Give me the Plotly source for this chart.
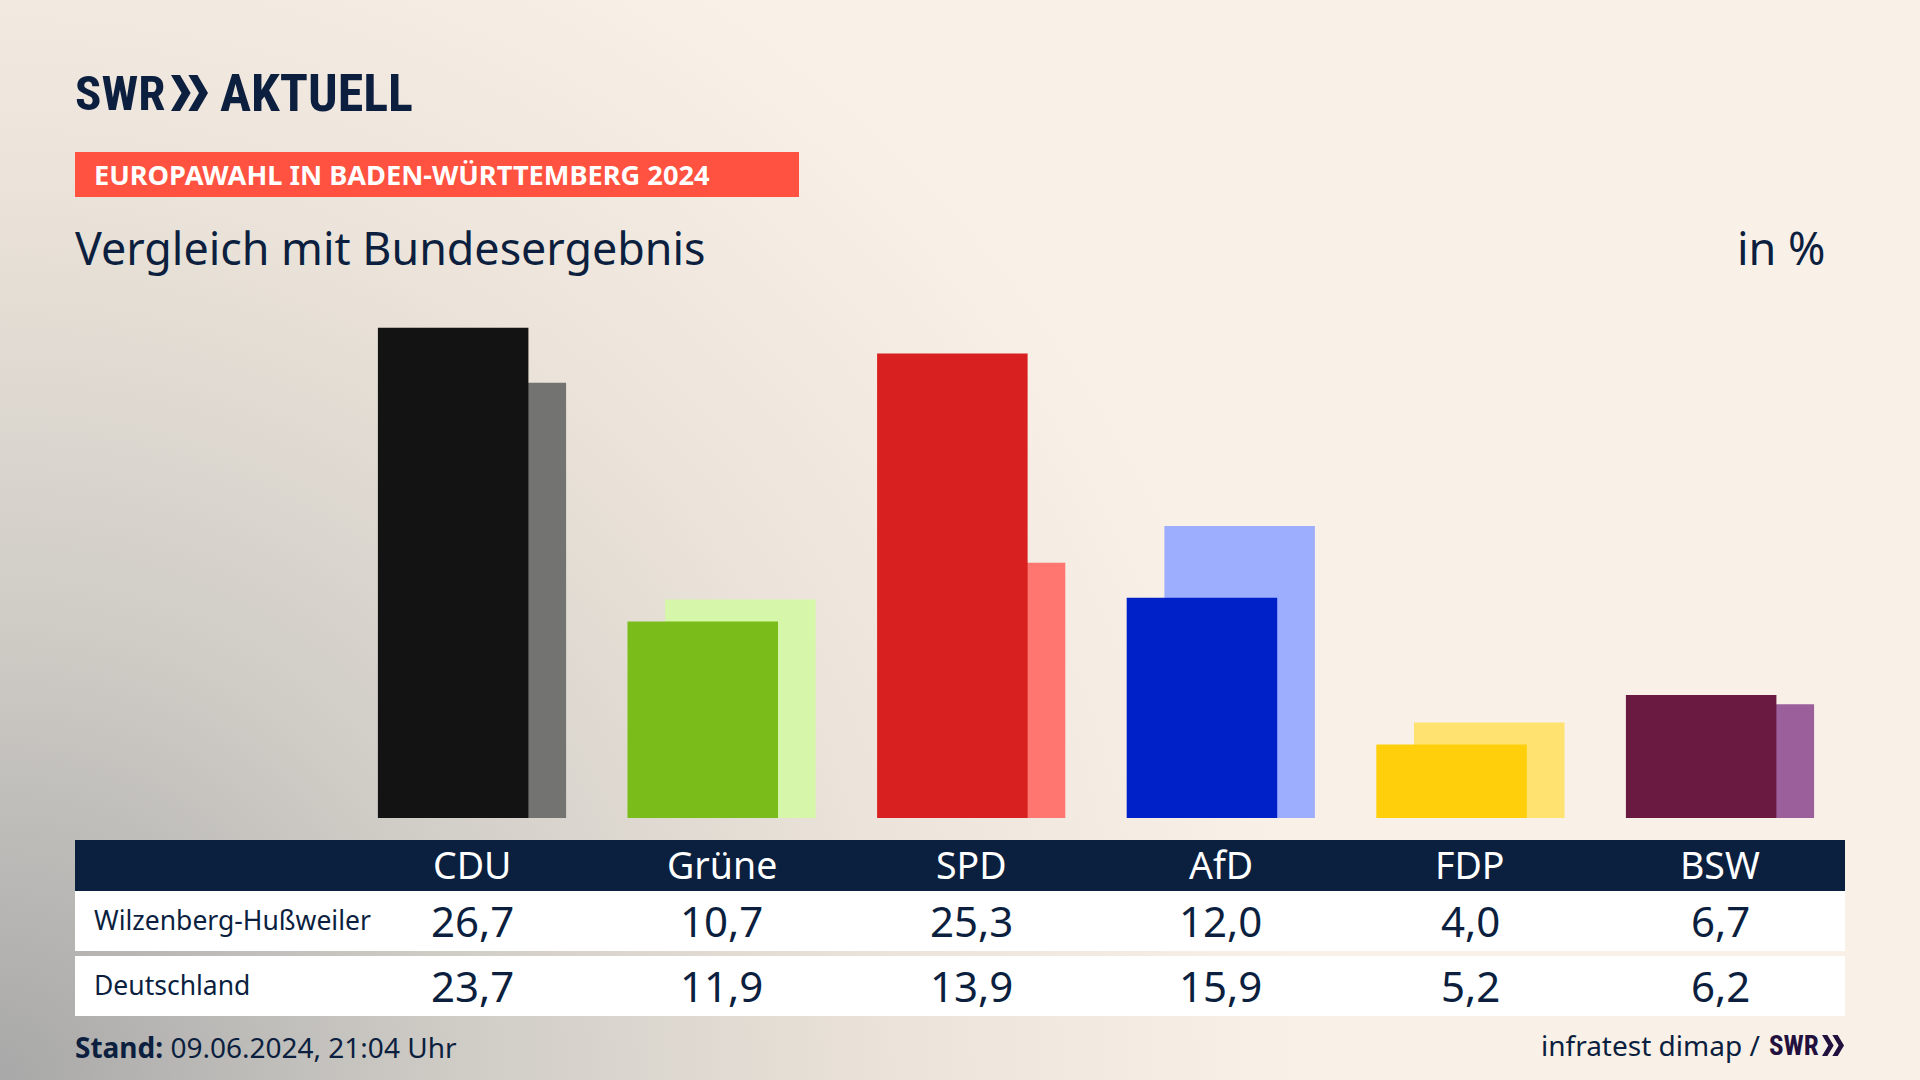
import base64
import plotly.graph_objects as go

parties = ['CDU', 'Grüne', 'SPD', 'AfD', 'FDP', 'BSW']
wahlkreis = [26.7, 10.7, 25.3, 12.0, 4.0, 6.7]
bund = [23.7, 11.9, 13.9, 15.9, 5.2, 6.2]
row_names = ['Wilzenberg-Hußweiler', 'Deutschland']

colors_main = ['#131313', '#7abd1a', '#d7201f', '#0020c8', '#ffcf0c', '#6a1a41']
colors_light = ['#737371', '#d6f6aa', '#ff7570', '#9eaeff', '#ffe26f', '#9b5f9b']

navy = '#0c1f3f'
font_name = 'Noto Sans'
W, H = 1920, 1080


def px(x):
    return x / W


def py(y):
    return 1 - y / H


# background: grey glow from the lower left corner
svg = f'''<svg xmlns="http://www.w3.org/2000/svg" width="{W}" height="{H}">
<defs><radialGradient id="g" gradientUnits="userSpaceOnUse" cx="0" cy="{H}" r="1300">
<stop offset="0" stop-color="#a8a8a8"/><stop offset="0.35" stop-color="#cfccc6"/>
<stop offset="0.7" stop-color="#ece4da"/><stop offset="1" stop-color="#f9f1e7"/>
</radialGradient></defs><rect width="{W}" height="{H}" fill="url(#g)"/></svg>'''
bg_src = 'data:image/svg+xml;base64,' + base64.b64encode(svg.encode()).decode()

fig = go.Figure()

# Bundesergebnis sits behind and shifted to the right
fig.add_trace(go.Bar(x=parties, y=bund, marker_color=colors_light, marker_line_width=0,
                     width=0.603, offset=-0.226, name='Deutschland'))
fig.add_trace(go.Bar(x=parties, y=wahlkreis, marker_color=colors_main, marker_line_width=0,
                     width=0.603, offset=-0.377, name='Wilzenberg-Hußweiler'))

shapes = []


def add_rect(x0, y0, x1, y1, color):
    shapes.append(dict(type='rect', xref='paper', yref='paper', x0=px(x0), x1=px(x1),
                       y0=py(y1), y1=py(y0), fillcolor=color, line_width=0, layer='below'))


def add_chevrons(x0, y0, x1, y1, color):
    # two arrow heads of the SWR logo
    w = (x1 - x0) * 0.53
    t = w * 0.46
    for dx in (0, x1 - x0 - w):
        pts = [(x0 + dx, y0), (x0 + dx + t, y0), (x0 + dx + w, (y0 + y1) / 2), (x0 + dx + t, y1),
               (x0 + dx, y1), (x0 + dx + w - t, (y0 + y1) / 2)]
        path = 'M ' + ' L '.join(f'{px(a):.5f},{py(b):.5f}' for a, b in pts) + ' Z'
        shapes.append(dict(type='path', xref='paper', yref='paper', path=path,
                           fillcolor=color, line_width=0))


add_rect(75, 152, 799, 197, '#ff5240')
add_rect(75, 840, 1845, 891, '#0b1f3e')
add_rect(75, 891, 1845, 951, '#ffffff')
add_rect(75, 956, 1845, 1016, '#ffffff')
add_chevrons(171, 75, 208, 111, navy)
add_chevrons(1822, 1035, 1844, 1056, '#22103f')

annotations = []


def add_text(text, x, y, size, color=navy, anchor='left', family=font_name, xref='paper'):
    annotations.append(dict(text=text, xref=xref, yref='paper', x=px(x) if xref == 'paper' else x,
                            y=py(y), xanchor=anchor, yanchor='middle', showarrow=False,
                            font=dict(family=family, size=size, color=color),
                            borderpad=0, borderwidth=0))


narrow = 'Roboto Condensed'
add_text('<b>SWR</b>', 75, 93, 49, family=narrow)
add_text('<b>AKTUELL</b>', 220, 93, 52, family=narrow)
add_text('<b>EUROPAWAHL IN BADEN-WÜRTTEMBERG 2024</b>', 94, 175, 27.2, color='#ffffff')
add_text('Vergleich mit Bundesergebnis', 75, 247, 44.8)
add_text('in %', 1826, 247, 45, anchor='right')

for name_idx, name in enumerate(row_names):
    add_text(name, 94, [920, 985][name_idx], 26.5)

for i, party in enumerate(parties):
    add_text(party, i, 864, 37.5, color='#ffffff', anchor='center', xref='x')
    add_text(f'{wahlkreis[i]:.1f}'.replace('.', ','), i, 920, 42, anchor='center', xref='x')
    add_text(f'{bund[i]:.1f}'.replace('.', ','), i, 985, 42, anchor='center', xref='x')

add_text('<b>Stand:</b> 09.06.2024, 21:04 Uhr', 75, 1047, 28)
add_text('infratest dimap /', 1760, 1045, 28, anchor='right')
add_text('<b>SWR</b>', 1769, 1046, 27, color='#22103f', family=narrow)

fig.update_layout(
    width=W, height=H, margin=dict(l=0, r=0, t=0, b=0), showlegend=False,
    barmode='overlay', paper_bgcolor='#f9f1e7', plot_bgcolor='rgba(0,0,0,0)',
    # one category = 249.6 px, one percent = 18.36 px
    xaxis=dict(domain=[0, 1], range=[-472 / 249.6, (W - 472) / 249.6], visible=False,
               type='category'),
    yaxis=dict(domain=[0, 1], range=[(818 - H) / 18.36, 818 / 18.36], visible=False),
    shapes=shapes, annotations=annotations,
    images=[dict(source=bg_src, xref='paper', yref='paper', x=0, y=1, sizex=1, sizey=1,
                 xanchor='left', yanchor='top', sizing='stretch', layer='below')],
)

fig.write_html('out.html', config={'displayModeBar': False},
               post_script="document.body.style.margin='0';")
